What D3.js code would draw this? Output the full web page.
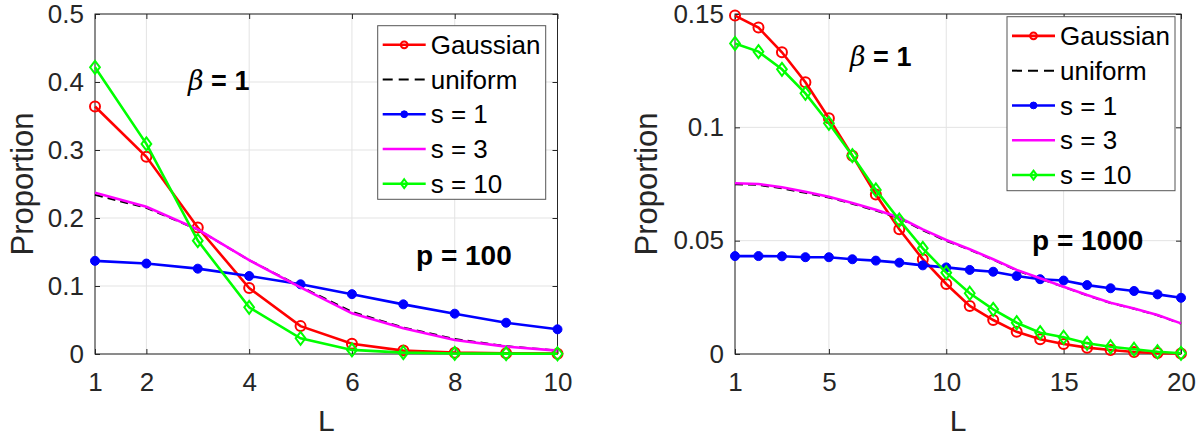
<!DOCTYPE html>
<html>
<head>
<meta charset="utf-8">
<script src="https://cdn.jsdelivr.net/npm/d3@7"></script>
<style>
  body { margin: 0; background: #fff; }
  svg { display: block; font-family: "Liberation Sans", Arial, Helvetica, sans-serif; }
</style>
</head>
<body>
<svg id="chart" width="1204" height="438"></svg>
<script>
// legend labels, in plot order
const seriesNames = ['Gaussian', 'uniform', 's = 1', 's = 3', 's = 10'];

// p = 100 panel
const L100 = [1, 2, 3, 4, 5, 6, 7, 8, 9, 10];
const gauss100 = [0.364, 0.290, 0.186, 0.097, 0.041, 0.015, 0.005, 0.002, 0.001, 0.0005];
const unif100 = [0.234, 0.215, 0.183, 0.138, 0.099, 0.062, 0.039, 0.022, 0.0115, 0.005];
const s1_100 = [0.137, 0.133, 0.1255, 0.1147, 0.1025, 0.088, 0.073, 0.0593, 0.046, 0.0363];
const s3_100 = [0.237, 0.2166, 0.1834, 0.138, 0.098, 0.0598, 0.0377, 0.0206, 0.0108, 0.005];
const s10_100 = [0.4216, 0.309, 0.1667, 0.0686, 0.023, 0.006, 0.002, 0.0008, 0.0005, 0.0004];
const xTicks100 = [1, 2, 4, 6, 8, 10];
const yTicks100 = [0, 0.1, 0.2, 0.3, 0.4, 0.5];

// p = 1000 panel
const L1000 = [1, 2, 3, 4, 5, 6, 7, 8, 9, 10, 11, 12, 13, 14, 15, 16, 17, 18, 19, 20];
const gauss1000 = [0.1493, 0.144, 0.1331, 0.1199, 0.104, 0.0875, 0.0704, 0.055, 0.0418, 0.0309,
                   0.0212, 0.015, 0.0098, 0.0065, 0.0044, 0.0028, 0.0018, 0.0009, 0.0004, 0.0002];
const unif1000 = [0.0749, 0.0746, 0.0731, 0.0711, 0.069, 0.0663, 0.0633, 0.0599, 0.0546, 0.0499,
                  0.046, 0.0416, 0.0369, 0.0332, 0.0296, 0.0259, 0.0225, 0.02, 0.0171, 0.0134];
const s1_1000 = [0.0432, 0.0432, 0.0431, 0.0427, 0.0427, 0.0418, 0.0412, 0.0403, 0.0391, 0.0382,
                 0.0371, 0.0363, 0.0344, 0.033, 0.0324, 0.0304, 0.029, 0.0278, 0.0263, 0.0248];
const s3_1000 = [0.0753, 0.075, 0.0736, 0.0716, 0.0694, 0.0666, 0.0636, 0.0602, 0.055, 0.0503,
                 0.0462, 0.0418, 0.0371, 0.0334, 0.0297, 0.026, 0.0226, 0.0201, 0.0172, 0.0135];
const s10_1000 = [0.137, 0.1334, 0.1256, 0.115, 0.1018, 0.0875, 0.0724, 0.0591, 0.0466, 0.0359,
                  0.0268, 0.0197, 0.0138, 0.0094, 0.0074, 0.0047, 0.0032, 0.0021, 0.001, 0.0003];
const xTicks1000 = [1, 5, 10, 15, 20];
const yTicks1000 = [0, 0.05, 0.1, 0.15];

const axisColor = '#262626';
const styles = [
  { color: '#ff0000', marker: 'circle', dash: null },
  { color: '#000000', marker: null, dash: '8,5' },
  { color: '#0000ff', marker: 'dot', dash: null },
  { color: '#ff00ff', marker: null, dash: null },
  { color: '#00ff00', marker: 'diamond', dash: null }
];

const panels = [
  {
    box: { left: 95, right: 557.5, top: 14, bottom: 354 },
    L: L100, series: [gauss100, unif100, s1_100, s3_100, s10_100],
    xDomain: [1, 10], yDomain: [0, 0.5], xTicks: xTicks100, yTicks: yTicks100,
    legend: { x: 377.7, y: 25.7, w: 168, h: 173.6 },
    beta: { x: 188, y: 89.5 }, pText: { x: 416, y: 265, t: 'p = 100' },
    ylabX: 33
  },
  {
    box: { left: 735, right: 1181, top: 14, bottom: 354 },
    L: L1000, series: [gauss1000, unif1000, s1_1000, s3_1000, s10_1000],
    xDomain: [1, 20], yDomain: [0, 0.15], xTicks: xTicks1000, yTicks: yTicks1000,
    legend: { x: 1007, y: 16.7, w: 168, h: 174 },
    beta: { x: 850, y: 66 }, pText: { x: 1032, y: 250, t: 'p = 1000' },
    ylabX: 657
  }
];

const svg = d3.select('#chart');

function drawMarker(g, type, cx, cy, color, size) {
  if (type === 'circle') {
    g.append('circle').attr('cx', cx).attr('cy', cy).attr('r', size)
      .attr('fill', 'none').attr('stroke', color).attr('stroke-width', 2);
  } else if (type === 'dot') {
    g.append('circle').attr('cx', cx).attr('cy', cy).attr('r', size)
      .attr('fill', color).attr('stroke', color).attr('stroke-width', 1);
  } else if (type === 'diamond') {
    const d = size * 1.3;
    g.append('path')
      .attr('d', `M${cx},${cy - d}L${cx + d * 0.75},${cy}L${cx},${cy + d}L${cx - d * 0.75},${cy}Z`)
      .attr('fill', 'none').attr('stroke', color).attr('stroke-width', 2);
  }
}

panels.forEach(p => {
  const b = p.box;
  const x = d3.scaleLinear().domain(p.xDomain).range([b.left, b.right]);
  const y = d3.scaleLinear().domain(p.yDomain).range([b.bottom, b.top]);
  const g = svg.append('g');

  // grid
  g.append('g').selectAll('line').data(p.xTicks).enter().append('line')
    .attr('x1', d => x(d)).attr('x2', d => x(d)).attr('y1', b.top).attr('y2', b.bottom)
    .attr('stroke', '#e3e3e3').attr('stroke-width', 1);
  g.append('g').selectAll('line').data(p.yTicks).enter().append('line')
    .attr('x1', b.left).attr('x2', b.right).attr('y1', d => y(d)).attr('y2', d => y(d))
    .attr('stroke', '#e3e3e3').attr('stroke-width', 1);

  // axes
  const xAxis = g.append('g').attr('transform', `translate(0,${b.bottom})`)
    .call(d3.axisBottom(x).tickValues(p.xTicks).tickFormat(d3.format('d'))
      .tickSizeInner(-5).tickSizeOuter(0).tickPadding(19));
  const yAxis = g.append('g').attr('transform', `translate(${b.left},0)`)
    .call(d3.axisLeft(y).tickValues(p.yTicks).tickFormat(d => String(+d.toFixed(2)))
      .tickSizeInner(-5).tickSizeOuter(0).tickPadding(11));
  g.append('g').attr('transform', `translate(0,${b.top})`)
    .call(d3.axisTop(x).tickValues(p.xTicks).tickFormat('').tickSizeInner(-5).tickSizeOuter(0));
  g.append('g').attr('transform', `translate(${b.right},0)`)
    .call(d3.axisRight(y).tickValues(p.yTicks).tickFormat('').tickSizeInner(-5).tickSizeOuter(0));
  g.selectAll('.domain').remove();
  g.selectAll('.tick line').attr('stroke', axisColor);
  [xAxis, yAxis].forEach(a => a.selectAll('text')
    .attr('fill', axisColor).style('font-size', '26px')
    .style('font-family', '"Liberation Sans", Arial, sans-serif'));

  g.append('rect').attr('x', b.left).attr('y', b.top)
    .attr('width', b.right - b.left).attr('height', b.bottom - b.top)
    .attr('fill', 'none').attr('stroke', axisColor).attr('stroke-width', 1);

  // series
  const line = d3.line().x((d, i) => x(p.L[i])).y(d => y(d));
  p.series.forEach((vals, k) => {
    const st = styles[k];
    const sg = g.append('g');
    sg.append('path').datum(vals).attr('d', line)
      .attr('fill', 'none').attr('stroke', st.color)
      .attr('stroke-width', st.dash ? 2 : 2.6)
      .attr('stroke-dasharray', st.dash);
    if (st.marker) {
      vals.forEach((v, i) => drawMarker(sg, st.marker, x(p.L[i]), y(v), st.color,
        st.marker === 'dot' ? 4.5 : 5));
    }
  });

  // legend
  const lg = p.legend;
  const leg = g.append('g');
  leg.append('rect').attr('x', lg.x).attr('y', lg.y).attr('width', lg.w).attr('height', lg.h)
    .attr('fill', '#fff').attr('stroke', '#555').attr('stroke-width', 1);
  const rowH = lg.h / seriesNames.length;
  seriesNames.forEach((name, k) => {
    const st = styles[k];
    const cy = lg.y + rowH * (k + 0.55);
    const x0 = lg.x + 5, x1 = lg.x + 48;
    leg.append('line').attr('x1', x0).attr('x2', x1).attr('y1', cy).attr('y2', cy)
      .attr('stroke', st.color).attr('stroke-width', st.dash ? 2 : 2.6)
      .attr('stroke-dasharray', st.dash ? '10,6' : null);
    if (st.marker) drawMarker(leg, st.marker, (x0 + x1) / 2, cy, st.color, 3.4);
    leg.append('text').attr('x', lg.x + 53).attr('y', cy).attr('dy', '0.35em')
      .style('font-size', '26px').attr('fill', '#000').text(name);
  });

  // annotations
  const bt = g.append('text').attr('x', p.beta.x).attr('y', p.beta.y)
    .style('font-size', '27px').attr('fill', '#000');
  bt.append('tspan').style('font-family', '"DejaVu Serif", "Liberation Serif", serif')
    .style('font-style', 'italic').text('β');
  bt.append('tspan').style('font-weight', 'bold').text(' = 1');
  g.append('text').attr('x', p.pText.x).attr('y', p.pText.y)
    .style('font-size', '28px').style('font-weight', 'bold').attr('fill', '#000')
    .text(p.pText.t);

  // axis labels
  g.append('text').attr('x', (b.left + b.right) / 2).attr('y', 431)
    .attr('text-anchor', 'middle').style('font-size', '30px').attr('fill', axisColor).text('L');
  g.append('text')
    .attr('transform', `translate(${p.ylabX},${(b.top + b.bottom) / 2}) rotate(-90)`)
    .attr('text-anchor', 'middle').style('font-size', '31px').attr('fill', axisColor)
    .text('Proportion');
});
</script>
</body>
</html>
